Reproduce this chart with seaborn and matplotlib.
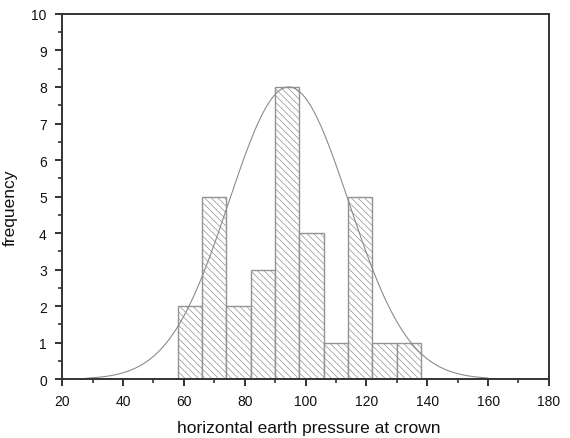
import numpy as np
import matplotlib
matplotlib.use('Agg')
import matplotlib.pyplot as plt
import seaborn as sns
from matplotlib.ticker import MultipleLocator

# histogram
bin_edges = [58, 66, 74, 82, 90, 98, 106, 114, 122, 130, 138]
counts = [2, 5, 2, 3, 8, 4, 1, 5, 1, 1]

# normal fit curve
fit_mean = 94.5
fit_sd = 19.7
fit_peak = 8
curve_range = (28, 160)

sns.set_theme(style='ticks')
plt.rcParams['font.family'] = ['Liberation Sans', 'DejaVu Sans']
plt.rcParams['hatch.color'] = '#9e9e9e'
plt.rcParams['hatch.linewidth'] = 0.5

centers = [(a + b) / 2 for a, b in zip(bin_edges[:-1], bin_edges[1:])]

xs = np.linspace(curve_range[0], curve_range[1], 400)
ys = fit_peak * np.exp(-(xs - fit_mean) ** 2 / (2 * fit_sd ** 2))

fig = plt.figure(figsize=(5.7, 4.39), dpi=100)
ax = fig.add_axes([0.109, 0.134, 0.854, 0.832])

sns.histplot(x=centers, weights=counts, bins=bin_edges, ax=ax,
             color='white', edgecolor='#939393', linewidth=1.0, alpha=1)
for p in ax.patches:
    p.set_hatch('\\\\\\\\\\')
sns.lineplot(x=xs, y=ys, ax=ax, color='#8c8c8c', linewidth=0.8)

ax.set_xlim(20, 180)
ax.set_ylim(0, 10)
ax.xaxis.set_major_locator(MultipleLocator(20))
ax.xaxis.set_minor_locator(MultipleLocator(10))
ax.yaxis.set_major_locator(MultipleLocator(1))
ax.yaxis.set_minor_locator(MultipleLocator(0.5))
ax.tick_params(which='major', direction='out', length=5, width=1.3, labelsize=10,
               color='#222222', labelcolor='#111111', pad=6)
ax.tick_params(which='minor', direction='out', length=3, width=1.1, color='#222222')
for s in ax.spines.values():
    s.set_linewidth(1.4)
    s.set_color('#333333')

ax.set_xlabel('horizontal earth pressure at crown', fontsize=12.5, color='#111111')
ax.set_ylabel('frequency', fontsize=12.5, color='#111111')
ax.xaxis.set_label_coords(0.507, -0.112)
ax.yaxis.set_label_coords(-0.092, 0.471)

plt.savefig('out.png', dpi=100)
